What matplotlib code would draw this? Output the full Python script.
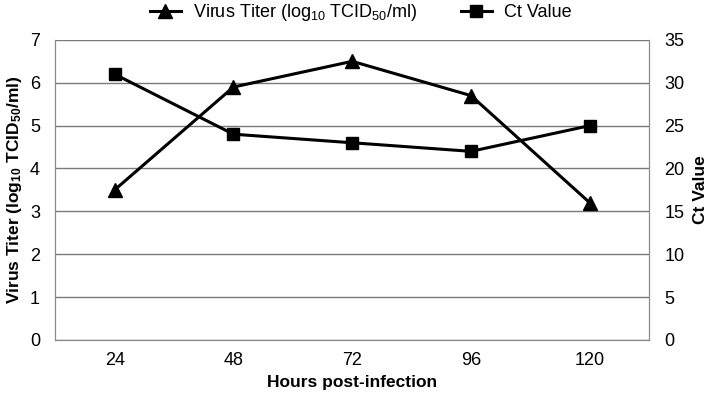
import matplotlib
matplotlib.use("Agg")
import matplotlib.pyplot as plt

plt.rcParams['font.family'] = ['Liberation Sans', 'DejaVu Sans']
plt.rcParams['mathtext.fontset'] = 'custom'
plt.rcParams['mathtext.rm'] = 'Liberation Sans'
plt.rcParams['mathtext.it'] = 'Liberation Sans:italic'
plt.rcParams['mathtext.bf'] = 'Liberation Sans:bold'

hours = ["24", "48", "72", "96", "120"]
titer = [3.5, 5.9, 6.5, 5.7, 3.2]
ct = [31, 24, 23, 22, 25]

fig = plt.figure(figsize=(7.08, 3.99), dpi=100)
ax = fig.add_axes([0.078, 0.148, 0.839, 0.752])
ax2 = ax.twinx()

x = range(len(hours))
l1, = ax.plot(x, titer, color="black", linewidth=2.2, marker="^", markersize=10,
              label=r"Virus Titer (log$_{\mathrm{10}}$ TCID$_{\mathrm{50}}$/ml)")
l2, = ax2.plot(x, ct, color="black", linewidth=2.2, marker="s", markersize=9,
               label="Ct Value")

ax.set_xlim(-0.5, len(hours) - 0.5)
ax.set_ylim(0, 7)
ax2.set_ylim(0, 35)
ax.set_yticks(range(0, 8))
ax2.set_yticks(range(0, 36, 5))
ax.set_xticks(list(x))
ax.set_xticklabels(hours)

ax.yaxis.grid(True, color="#7a7a7a", linewidth=1)
ax.set_axisbelow(True)
for a in (ax, ax2):
    for s in a.spines.values():
        s.set_color("#8a8a8a")
    a.tick_params(labelsize=13, length=0, pad=11)
ax2.spines['top'].set_visible(False)
ax.spines['top'].set_visible(False)
ax.tick_params(axis='x', pad=9)

ax.set_xlabel("Hours post-infection", fontsize=12.5, fontweight="bold", labelpad=4)
ax.set_ylabel(r"Virus Titer (log$_{\mathbf{10}}$ TCID$_{\mathbf{50}}$/ml)",
              fontsize=12.5, fontweight="bold", labelpad=4)
ax2.set_ylabel("Ct Value", fontsize=12.5, fontweight="bold", labelpad=6)

fig.legend(handles=[l1, l2], loc="upper center", bbox_to_anchor=(0.51, 1.035), ncol=2,
           frameon=False, fontsize=13, columnspacing=2.4, handlelength=1.7,
           handletextpad=0.7)

fig.savefig("out.png", dpi=100)
